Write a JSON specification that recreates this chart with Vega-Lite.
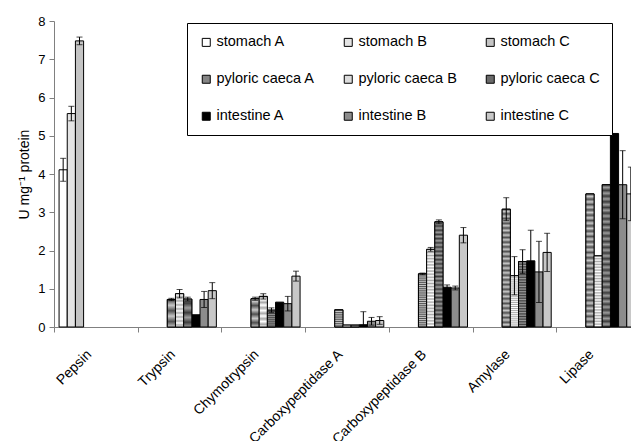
{
  "$schema": "https://vega.github.io/schema/vega-lite/v6.json",
  "width": 577,
  "height": 306,
  "autosize": {"type": "none"},
  "padding": {"left": 54, "top": 21, "right": 0, "bottom": 114},
  "background": "white",
  "config": {
    "font": "Liberation Sans",
    "view": {"stroke": null},
    "axis": {"grid": false, "domainColor": "#808080", "tickColor": "#808080", "labelColor": "black", "titleColor": "black", "labelFont": "Liberation Sans", "titleFont": "Liberation Sans"},
    "axisY": {"values": [0, 1, 2, 3, 4, 5, 6, 7, 8], "labelFontSize": 13, "titleFontSize": 14, "titleFontWeight": "normal", "tickSize": 5, "labelPadding": 4, "titlePadding": 6}
  },
  "data": {
    "values": [
      {"enzyme": "Pepsin", "series": "stomach A", "value": 4.11, "lo": 3.81, "hi": 4.41},
      {"enzyme": "Pepsin", "series": "stomach B", "value": 5.58, "lo": 5.39, "hi": 5.77},
      {"enzyme": "Pepsin", "series": "stomach C", "value": 7.48, "lo": 7.38, "hi": 7.58},
      {"enzyme": "Trypsin", "series": "pyloric caeca A", "value": 0.72, "lo": 0.69, "hi": 0.75},
      {"enzyme": "Trypsin", "series": "pyloric caeca B", "value": 0.87, "lo": 0.76, "hi": 0.98},
      {"enzyme": "Trypsin", "series": "pyloric caeca C", "value": 0.73, "lo": 0.68, "hi": 0.78},
      {"enzyme": "Trypsin", "series": "intestine A", "value": 0.32},
      {"enzyme": "Trypsin", "series": "intestine B", "value": 0.72, "lo": 0.51, "hi": 0.93},
      {"enzyme": "Trypsin", "series": "intestine C", "value": 0.95, "lo": 0.74, "hi": 1.16},
      {"enzyme": "Chymotrypsin", "series": "pyloric caeca A", "value": 0.74, "lo": 0.7, "hi": 0.78},
      {"enzyme": "Chymotrypsin", "series": "pyloric caeca B", "value": 0.8, "lo": 0.73, "hi": 0.87},
      {"enzyme": "Chymotrypsin", "series": "pyloric caeca C", "value": 0.44, "lo": 0.38, "hi": 0.5},
      {"enzyme": "Chymotrypsin", "series": "intestine A", "value": 0.65},
      {"enzyme": "Chymotrypsin", "series": "intestine B", "value": 0.61, "lo": 0.42, "hi": 0.8},
      {"enzyme": "Chymotrypsin", "series": "intestine C", "value": 1.33, "lo": 1.2, "hi": 1.46},
      {"enzyme": "Carboxypeptidase A", "series": "pyloric caeca A", "value": 0.45},
      {"enzyme": "Carboxypeptidase A", "series": "pyloric caeca B", "value": 0.05},
      {"enzyme": "Carboxypeptidase A", "series": "pyloric caeca C", "value": 0.05},
      {"enzyme": "Carboxypeptidase A", "series": "intestine A", "value": 0.06, "lo": 0, "hi": 0.4},
      {"enzyme": "Carboxypeptidase A", "series": "intestine B", "value": 0.15, "lo": 0.05, "hi": 0.25},
      {"enzyme": "Carboxypeptidase A", "series": "intestine C", "value": 0.17, "lo": 0.07, "hi": 0.27},
      {"enzyme": "Carboxypeptidase B", "series": "pyloric caeca A", "value": 1.39, "lo": 1.37, "hi": 1.41},
      {"enzyme": "Carboxypeptidase B", "series": "pyloric caeca B", "value": 2.03, "lo": 1.98, "hi": 2.08},
      {"enzyme": "Carboxypeptidase B", "series": "pyloric caeca C", "value": 2.75, "lo": 2.7, "hi": 2.8},
      {"enzyme": "Carboxypeptidase B", "series": "intestine A", "value": 1.04, "lo": 0.98, "hi": 1.1},
      {"enzyme": "Carboxypeptidase B", "series": "intestine B", "value": 1.02, "lo": 0.97, "hi": 1.07},
      {"enzyme": "Carboxypeptidase B", "series": "intestine C", "value": 2.4, "lo": 2.2, "hi": 2.6},
      {"enzyme": "Amylase", "series": "pyloric caeca A", "value": 3.08, "lo": 2.78, "hi": 3.38},
      {"enzyme": "Amylase", "series": "pyloric caeca B", "value": 1.34, "lo": 0.84, "hi": 1.84},
      {"enzyme": "Amylase", "series": "pyloric caeca C", "value": 1.71, "lo": 1.4, "hi": 2.02},
      {"enzyme": "Amylase", "series": "intestine A", "value": 1.73, "lo": 0.93, "hi": 2.53},
      {"enzyme": "Amylase", "series": "intestine B", "value": 1.44, "lo": 0.64, "hi": 2.24},
      {"enzyme": "Amylase", "series": "intestine C", "value": 1.95, "lo": 1.45, "hi": 2.45},
      {"enzyme": "Lipase", "series": "pyloric caeca A", "value": 3.48},
      {"enzyme": "Lipase", "series": "pyloric caeca B", "value": 1.86},
      {"enzyme": "Lipase", "series": "pyloric caeca C", "value": 3.72},
      {"enzyme": "Lipase", "series": "intestine A", "value": 5.06},
      {"enzyme": "Lipase", "series": "intestine B", "value": 3.72, "lo": 2.83, "hi": 4.61},
      {"enzyme": "Lipase", "series": "intestine C", "value": 3.48, "lo": 2.78, "hi": 4.18}
    ]
  },
  "encoding": {
    "x": {
      "field": "enzyme", "type": "nominal", "title": null,
      "scale": {"domain": ["Pepsin", "Trypsin", "Chymotrypsin", "Carboxypeptidase A", "Carboxypeptidase B", "Amylase", "Lipase"], "range": [0, 586], "paddingInner": 0, "paddingOuter": 0},
      "axis": {"labelAngle": -45, "labelAlign": "right", "labelBaseline": "middle", "labelFontSize": 14, "tickBand": "extent", "tickSize": 5, "labelPadding": 20, "labelOffset": -7}
    },
    "xOffset": {
      "field": "series", "type": "nominal",
      "scale": {"domain": ["stomach A", "stomach B", "stomach C", "pyloric caeca A", "pyloric caeca B", "pyloric caeca C", "intestine A", "intestine B", "intestine C"], "paddingInner": 0, "paddingOuter": 0.62}
    },
    "y": {
      "field": "value", "type": "quantitative",
      "title": "U mg⁻¹ protein",
      "scale": {"domain": [0, 8], "nice": false}
    }
  },
  "layer": [
    {
      "mark": {"type": "bar", "stroke": "black", "strokeWidth": 1},
      "encoding": {
        "fill": {
          "field": "series", "type": "nominal",
          "scale": {
            "domain": ["stomach A", "stomach B", "stomach C", "pyloric caeca A", "pyloric caeca B", "pyloric caeca C", "intestine A", "intestine B", "intestine C"],
            "range": ["#ffffff", "#e4e4e4", "#c4c4c4", "#858585", "#dcdcdc", "#6a6a6a", "#000000", "#8c8c8c", "#c8c8c8"]
          },
          "legend": {
            "title": null, "orient": "none", "legendX": 133, "legendY": 2, "columns": 3, "direction": "horizontal",
            "symbolType": "square", "symbolSize": 64, "symbolStrokeColor": "black", "symbolStrokeWidth": 1,
            "labelFontSize": 14.5, "labelOffset": 3, "columnPadding": 26, "rowPadding": 22, "padding": 12,
            "strokeColor": "black", "fillColor": "white", "labelColor": "black", "labelFont": "Liberation Sans"
          }
        }
      }
    },
    {
      "transform": [{"filter": "datum.series === 'pyloric caeca A'"}],
      "mark": {"type": "bar", "stroke": "black", "strokeWidth": 1,
        "fill": {"gradient": "linear", "x1": 0, "y1": 0, "x2": 0, "y2": 1, "stops": [
          {"offset": 0, "color": "#505050"}, {"offset": 0.02, "color": "#c8c8c8"}, {"offset": 0.04, "color": "#505050"}, {"offset": 0.06, "color": "#c8c8c8"}, {"offset": 0.08, "color": "#505050"},
          {"offset": 0.1, "color": "#c8c8c8"}, {"offset": 0.12, "color": "#505050"}, {"offset": 0.14, "color": "#c8c8c8"}, {"offset": 0.16, "color": "#505050"}, {"offset": 0.18, "color": "#c8c8c8"},
          {"offset": 0.2, "color": "#505050"}, {"offset": 0.22, "color": "#c8c8c8"}, {"offset": 0.24, "color": "#505050"}, {"offset": 0.26, "color": "#c8c8c8"}, {"offset": 0.28, "color": "#505050"},
          {"offset": 0.3, "color": "#c8c8c8"}, {"offset": 0.32, "color": "#505050"}, {"offset": 0.34, "color": "#c8c8c8"}, {"offset": 0.36, "color": "#505050"}, {"offset": 0.38, "color": "#c8c8c8"},
          {"offset": 0.4, "color": "#505050"}, {"offset": 0.42, "color": "#c8c8c8"}, {"offset": 0.44, "color": "#505050"}, {"offset": 0.46, "color": "#c8c8c8"}, {"offset": 0.48, "color": "#505050"},
          {"offset": 0.5, "color": "#c8c8c8"}, {"offset": 0.52, "color": "#505050"}, {"offset": 0.54, "color": "#c8c8c8"}, {"offset": 0.56, "color": "#505050"}, {"offset": 0.58, "color": "#c8c8c8"},
          {"offset": 0.6, "color": "#505050"}, {"offset": 0.62, "color": "#c8c8c8"}, {"offset": 0.64, "color": "#505050"}, {"offset": 0.66, "color": "#c8c8c8"}, {"offset": 0.68, "color": "#505050"},
          {"offset": 0.7, "color": "#c8c8c8"}, {"offset": 0.72, "color": "#505050"}, {"offset": 0.74, "color": "#c8c8c8"}, {"offset": 0.76, "color": "#505050"}, {"offset": 0.78, "color": "#c8c8c8"},
          {"offset": 0.8, "color": "#505050"}, {"offset": 0.82, "color": "#c8c8c8"}, {"offset": 0.84, "color": "#505050"}, {"offset": 0.86, "color": "#c8c8c8"}, {"offset": 0.88, "color": "#505050"},
          {"offset": 0.9, "color": "#c8c8c8"}, {"offset": 0.92, "color": "#505050"}, {"offset": 0.94, "color": "#c8c8c8"}, {"offset": 0.96, "color": "#505050"}, {"offset": 0.98, "color": "#c8c8c8"},
          {"offset": 1, "color": "#505050"}
        ]}
      },
      "encoding": {}
    },
    {
      "transform": [{"filter": "datum.series === 'pyloric caeca B'"}],
      "mark": {"type": "bar", "stroke": "black", "strokeWidth": 1,
        "fill": {"gradient": "linear", "x1": 0, "y1": 0, "x2": 0, "y2": 1, "stops": [
          {"offset": 0, "color": "#a8a8a8"}, {"offset": 0.02, "color": "#ffffff"}, {"offset": 0.04, "color": "#a8a8a8"}, {"offset": 0.06, "color": "#ffffff"}, {"offset": 0.08, "color": "#a8a8a8"},
          {"offset": 0.1, "color": "#ffffff"}, {"offset": 0.12, "color": "#a8a8a8"}, {"offset": 0.14, "color": "#ffffff"}, {"offset": 0.16, "color": "#a8a8a8"}, {"offset": 0.18, "color": "#ffffff"},
          {"offset": 0.2, "color": "#a8a8a8"}, {"offset": 0.22, "color": "#ffffff"}, {"offset": 0.24, "color": "#a8a8a8"}, {"offset": 0.26, "color": "#ffffff"}, {"offset": 0.28, "color": "#a8a8a8"},
          {"offset": 0.3, "color": "#ffffff"}, {"offset": 0.32, "color": "#a8a8a8"}, {"offset": 0.34, "color": "#ffffff"}, {"offset": 0.36, "color": "#a8a8a8"}, {"offset": 0.38, "color": "#ffffff"},
          {"offset": 0.4, "color": "#a8a8a8"}, {"offset": 0.42, "color": "#ffffff"}, {"offset": 0.44, "color": "#a8a8a8"}, {"offset": 0.46, "color": "#ffffff"}, {"offset": 0.48, "color": "#a8a8a8"},
          {"offset": 0.5, "color": "#ffffff"}, {"offset": 0.52, "color": "#a8a8a8"}, {"offset": 0.54, "color": "#ffffff"}, {"offset": 0.56, "color": "#a8a8a8"}, {"offset": 0.58, "color": "#ffffff"},
          {"offset": 0.6, "color": "#a8a8a8"}, {"offset": 0.62, "color": "#ffffff"}, {"offset": 0.64, "color": "#a8a8a8"}, {"offset": 0.66, "color": "#ffffff"}, {"offset": 0.68, "color": "#a8a8a8"},
          {"offset": 0.7, "color": "#ffffff"}, {"offset": 0.72, "color": "#a8a8a8"}, {"offset": 0.74, "color": "#ffffff"}, {"offset": 0.76, "color": "#a8a8a8"}, {"offset": 0.78, "color": "#ffffff"},
          {"offset": 0.8, "color": "#a8a8a8"}, {"offset": 0.82, "color": "#ffffff"}, {"offset": 0.84, "color": "#a8a8a8"}, {"offset": 0.86, "color": "#ffffff"}, {"offset": 0.88, "color": "#a8a8a8"},
          {"offset": 0.9, "color": "#ffffff"}, {"offset": 0.92, "color": "#a8a8a8"}, {"offset": 0.94, "color": "#ffffff"}, {"offset": 0.96, "color": "#a8a8a8"}, {"offset": 0.98, "color": "#ffffff"},
          {"offset": 1, "color": "#a8a8a8"}
        ]}
      },
      "encoding": {}
    },
    {
      "transform": [{"filter": "datum.series === 'pyloric caeca C'"}],
      "mark": {"type": "bar", "stroke": "black", "strokeWidth": 1,
        "fill": {"gradient": "linear", "x1": 0, "y1": 0, "x2": 0, "y2": 1, "stops": [
          {"offset": 0, "color": "#3c3c3c"}, {"offset": 0.02, "color": "#9c9c9c"}, {"offset": 0.04, "color": "#3c3c3c"}, {"offset": 0.06, "color": "#9c9c9c"}, {"offset": 0.08, "color": "#3c3c3c"},
          {"offset": 0.1, "color": "#9c9c9c"}, {"offset": 0.12, "color": "#3c3c3c"}, {"offset": 0.14, "color": "#9c9c9c"}, {"offset": 0.16, "color": "#3c3c3c"}, {"offset": 0.18, "color": "#9c9c9c"},
          {"offset": 0.2, "color": "#3c3c3c"}, {"offset": 0.22, "color": "#9c9c9c"}, {"offset": 0.24, "color": "#3c3c3c"}, {"offset": 0.26, "color": "#9c9c9c"}, {"offset": 0.28, "color": "#3c3c3c"},
          {"offset": 0.3, "color": "#9c9c9c"}, {"offset": 0.32, "color": "#3c3c3c"}, {"offset": 0.34, "color": "#9c9c9c"}, {"offset": 0.36, "color": "#3c3c3c"}, {"offset": 0.38, "color": "#9c9c9c"},
          {"offset": 0.4, "color": "#3c3c3c"}, {"offset": 0.42, "color": "#9c9c9c"}, {"offset": 0.44, "color": "#3c3c3c"}, {"offset": 0.46, "color": "#9c9c9c"}, {"offset": 0.48, "color": "#3c3c3c"},
          {"offset": 0.5, "color": "#9c9c9c"}, {"offset": 0.52, "color": "#3c3c3c"}, {"offset": 0.54, "color": "#9c9c9c"}, {"offset": 0.56, "color": "#3c3c3c"}, {"offset": 0.58, "color": "#9c9c9c"},
          {"offset": 0.6, "color": "#3c3c3c"}, {"offset": 0.62, "color": "#9c9c9c"}, {"offset": 0.64, "color": "#3c3c3c"}, {"offset": 0.66, "color": "#9c9c9c"}, {"offset": 0.68, "color": "#3c3c3c"},
          {"offset": 0.7, "color": "#9c9c9c"}, {"offset": 0.72, "color": "#3c3c3c"}, {"offset": 0.74, "color": "#9c9c9c"}, {"offset": 0.76, "color": "#3c3c3c"}, {"offset": 0.78, "color": "#9c9c9c"},
          {"offset": 0.8, "color": "#3c3c3c"}, {"offset": 0.82, "color": "#9c9c9c"}, {"offset": 0.84, "color": "#3c3c3c"}, {"offset": 0.86, "color": "#9c9c9c"}, {"offset": 0.88, "color": "#3c3c3c"},
          {"offset": 0.9, "color": "#9c9c9c"}, {"offset": 0.92, "color": "#3c3c3c"}, {"offset": 0.94, "color": "#9c9c9c"}, {"offset": 0.96, "color": "#3c3c3c"}, {"offset": 0.98, "color": "#9c9c9c"},
          {"offset": 1, "color": "#3c3c3c"}
        ]}
      },
      "encoding": {}
    },
    {
      "transform": [{"filter": "isValid(datum.hi)"}],
      "mark": {"type": "rule", "color": "black", "strokeWidth": 1},
      "encoding": {
        "y": {"field": "lo", "type": "quantitative", "title": "U mg⁻¹ protein"},
        "y2": {"field": "hi"}
      }
    },
    {
      "transform": [{"filter": "isValid(datum.hi)"}],
      "mark": {"type": "tick", "color": "black", "size": 6, "thickness": 1},
      "encoding": {
        "y": {"field": "hi", "type": "quantitative", "title": "U mg⁻¹ protein"}
      }
    },
    {
      "transform": [{"filter": "isValid(datum.hi) && datum.lo > 0"}],
      "mark": {"type": "tick", "color": "black", "size": 6, "thickness": 1},
      "encoding": {
        "y": {"field": "lo", "type": "quantitative", "title": "U mg⁻¹ protein"}
      }
    }
  ]
}
